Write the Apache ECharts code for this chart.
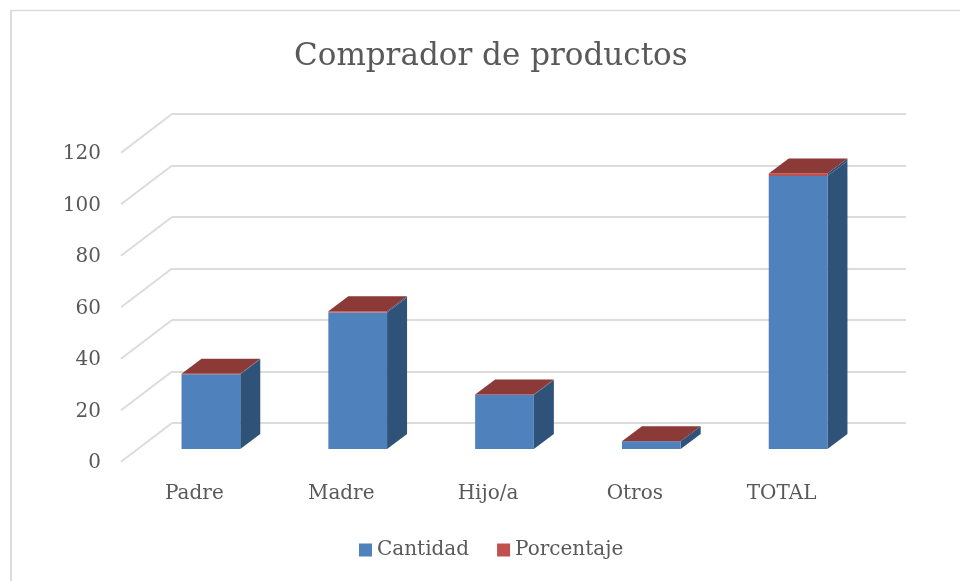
<!DOCTYPE html>
<html>
<head>
<meta charset="utf-8">
<style>
  html, body { margin: 0; padding: 0; background: #fff; }
  #chart { width: 960px; height: 581px; }
</style>
<script src="https://cdn.jsdelivr.net/npm/echarts@6/dist/echarts.min.js"></script>
</head>
<body>
<div id="chart"></div>
<script>
var categories = ['Padre', 'Madre', 'Hijo/a', 'Otros', 'TOTAL']
var cantidad = [29, 53, 21, 3, 106]
var porcentaje = [0.27, 0.5, 0.2, 0.03, 1]
var yTicks = [0, 20, 40, 60, 80, 100, 120]

var fontName = 'DejaVu Serif'
var textColor = '#595959'

// floor depth of the fake 3d box, in pixels
var frontX = -34.5, frontY = 26
var depthX = 20, depthY = -15
var wallDepthX = -51, wallDepthY = 38.7

function boxItem(colors, drawTop) {
  return function(params, api) {
    var i = api.value(0)
    var low = api.coord([i, api.value(1)])
    var high = api.coord([i, api.value(1) + api.value(2)])
    var w = api.size([1, 0])[0] * 0.4
    var x0 = low[0] + frontX - w / 2
    var x1 = x0 + w
    var y0 = low[1] + frontY
    var y1 = high[1] + frontY
    var children = [{
      type: 'polygon',
      shape: { points: [[x1, y0], [x1 + depthX, y0 + depthY], [x1 + depthX, y1 + depthY], [x1, y1]] },
      style: { fill: colors.side }
    }, {
      type: 'rect',
      shape: { x: x0, y: y1, width: w, height: y0 - y1 },
      style: { fill: colors.front }
    }]
    if (drawTop) {
      children.push({
        type: 'polygon',
        shape: { points: [[x0, y1], [x1, y1], [x1 + depthX, y1 + depthY], [x0 + depthX, y1 + depthY]] },
        style: { fill: colors.top }
      })
    }
    return { type: 'group', children: children }
  }
}

var chart = echarts.init(document.getElementById('chart'), null, { renderer: 'canvas' })

chart.setOption({
  animation: false,
  backgroundColor: '#fff',
  textStyle: { fontFamily: fontName },
  title: {
    text: 'Comprador de productos',
    left: 289,
    top: 36,
    textStyle: { fontFamily: fontName, fontSize: 31, fontWeight: 'normal', color: textColor }
  },
  legend: {
    left: 354,
    top: 535,
    itemWidth: 13,
    itemHeight: 13,
    itemGap: 28,
    icon: 'rect',
    data: ['Cantidad', 'Porcentaje'],
    textStyle: { fontFamily: fontName, fontSize: 20, color: textColor, padding: [0, 0, 0, 0] }
  },
  // only the top and left edges of the frame are in the picture
  graphic: [{
    type: 'line',
    shape: { x1: 10, y1: 10.5, x2: 960, y2: 10.5 },
    style: { stroke: '#dcdcdc', lineWidth: 1.5 }
  }, {
    type: 'line',
    shape: { x1: 11, y1: 10, x2: 11, y2: 581 },
    style: { stroke: '#dcdcdc', lineWidth: 2 }
  }],
  grid: [
    // back wall
    { left: 172, right: 54, top: 114, bottom: 158 },
    // front edge of the floor, only carries the labels
    { left: 121, right: 105, top: 154, bottom: 118 }
  ],
  xAxis: [{
    gridIndex: 0,
    type: 'category',
    data: categories,
    axisLine: { show: false },
    axisTick: { show: false },
    axisLabel: { show: false }
  }, {
    gridIndex: 1,
    type: 'category',
    data: categories,
    axisLine: { show: false },
    axisTick: { show: false },
    axisLabel: { margin: 21, fontFamily: fontName, fontSize: 20, color: textColor }
  }],
  yAxis: [{
    gridIndex: 0,
    type: 'value',
    min: 0,
    max: 120,
    interval: 20,
    axisLine: { show: false },
    axisTick: { show: false },
    axisLabel: { show: false },
    splitLine: { lineStyle: { color: '#dcdcdc', width: 2 } }
  }, {
    gridIndex: 1,
    type: 'value',
    min: 0,
    max: 120,
    interval: 20,
    axisLine: { show: false },
    axisTick: { show: false },
    splitLine: { show: false },
    axisLabel: { margin: 20, fontFamily: fontName, fontSize: 20, color: textColor }
  }],
  series: [{
    // slanted floor lines
    type: 'custom',
    name: 'floor',
    silent: true,
    xAxisIndex: 0,
    yAxisIndex: 0,
    data: yTicks.map(function(v) { return [v] }),
    encode: { y: 0 },
    renderItem: function(params, api) {
      var x = params.coordSys.x
      var y = api.coord([0, api.value(0)])[1]
      return {
        type: 'line',
        shape: { x1: x, y1: y, x2: x + wallDepthX, y2: y + wallDepthY },
        style: { stroke: '#dcdcdc', lineWidth: 2 }
      }
    }
  }, {
    type: 'custom',
    name: 'Cantidad',
    xAxisIndex: 0,
    yAxisIndex: 0,
    itemStyle: { color: '#4f81bd' },
    data: categories.map(function(c, i) { return [i, 0, cantidad[i]] }),
    encode: { x: 0, y: [1, 2] },
    renderItem: boxItem({ front: '#4f81bd', side: '#2f5279' }, false)
  }, {
    type: 'custom',
    name: 'Porcentaje',
    xAxisIndex: 0,
    yAxisIndex: 0,
    itemStyle: { color: '#c0504d' },
    data: categories.map(function(c, i) { return [i, cantidad[i], porcentaje[i]] }),
    encode: { x: 0, y: [1, 2] },
    renderItem: boxItem({ front: '#c0504d', side: '#2f5279', top: '#8c3a38' }, true)
  }]
})
</script>
</body>
</html>
